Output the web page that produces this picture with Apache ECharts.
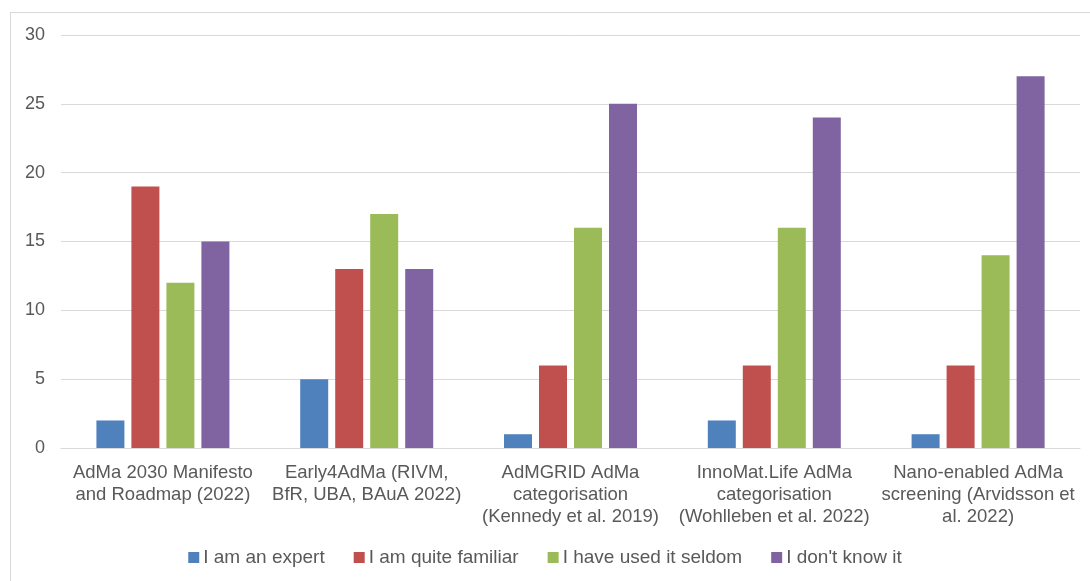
<!DOCTYPE html>
<html>
<head>
<meta charset="utf-8">
<script src="https://cdn.jsdelivr.net/npm/echarts@6/dist/echarts.min.js"></script>
<style>
  html, body { margin: 0; padding: 0; background: #fff; overflow: hidden; }
  #frame { position: absolute; left: 10px; top: 12px; width: 1100px; height: 600px; border: 1px solid #d9d9d9; }
  #echart { position: absolute; left: 0; top: 0; width: 1090px; height: 581px; }
</style>
</head>
<body>
<div id="frame"></div>
<div id="echart"></div>
<script>
let categories = [
    'AdMa 2030 Manifesto\nand Roadmap (2022)',
    'Early4AdMa (RIVM,\nBfR, UBA, BAuA 2022)',
    'AdMGRID AdMa\ncategorisation\n(Kennedy et al. 2019)',
    'InnoMat.Life AdMa\ncategorisation\n(Wohlleben et al. 2022)',
    'Nano-enabled AdMa\nscreening (Arvidsson et\nal. 2022)'
]
let seriesNames = ['I am an expert', 'I am quite familiar', 'I have used it seldom', "I don't know it"]
let expert = [2, 5, 1, 2, 1]
let familiar = [19, 13, 6, 6, 6]
let seldom = [12, 17, 16, 16, 14]
let dontKnow = [15, 13, 25, 24, 27]
let colors = ['#4F81BD', '#C0504D', '#9BBB59', '#8064A2']

let echart = echarts.init(document.getElementById('echart'))

let values = [expert, familiar, seldom, dontKnow]

let option = {
    color: colors,
    textStyle: { fontFamily: 'Liberation Sans, Arial, sans-serif' },
    legend: {
        bottom: 9,
        left: 'center',
        itemWidth: 11,
        itemHeight: 11,
        itemGap: 29,
        icon: 'rect',
        textStyle: { color: '#595959', fontSize: 19, padding: [0, 0, 0, -1] },
        data: seriesNames
    },
    grid: { left: 61, right: 10, top: 35, bottom: 133 },
    xAxis: {
        type: 'category',
        data: categories,
        axisLine: { lineStyle: { color: '#d9d9d9', width: 1 } },
        axisTick: { show: false },
        axisLabel: { color: '#595959', fontSize: 18.5, lineHeight: 22, margin: 14, interval: 0 }
    },
    yAxis: {
        type: 'value',
        min: 0,
        max: 30,
        interval: 5,
        axisLine: { show: false },
        axisTick: { show: false },
        axisLabel: { color: '#595959', fontSize: 18, margin: 16 },
        splitLine: { lineStyle: { color: '#d9d9d9', width: 1 } }
    },
    series: seriesNames.map((name, i) => ({
        name: name,
        type: 'bar',
        data: values[i],
        barWidth: 28,
        barGap: '25%'
    }))
};

echart.setOption(option);
</script>
</body>
</html>
